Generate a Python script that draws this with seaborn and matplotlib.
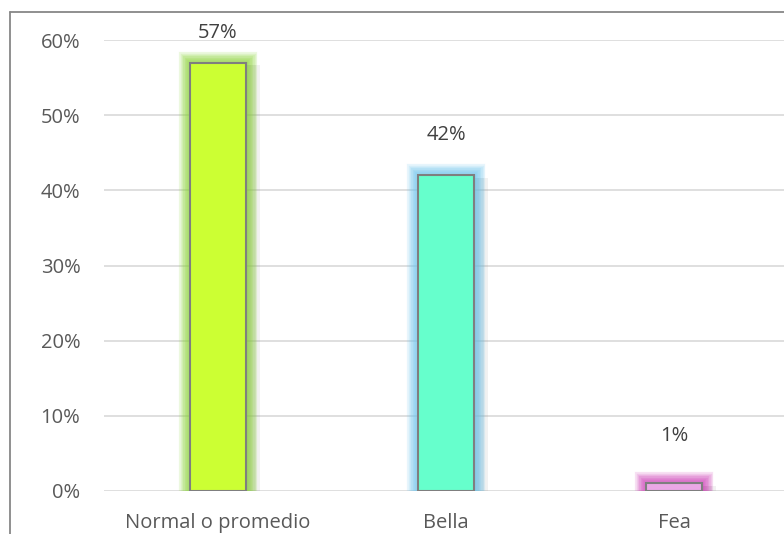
import matplotlib
matplotlib.use("Agg")
import matplotlib.pyplot as plt
import matplotlib.patheffects as pe
from matplotlib.lines import Line2D
import seaborn as sns
import pandas as pd

categories = ["Normal o promedio", "Bella", "Fea"]
values = [0.57, 0.42, 0.01]
fills = ["#CCFF33", "#66FFCC", "#EBA8E6"]
glows = ["#8CD43A", "#6EC6EE", "#D040B8"]
label_offsets_px = [30, 40, 47]
yticks = [0.0, 0.1, 0.2, 0.3, 0.4, 0.5, 0.6]

sns.set_theme(style="white")
plt.rcParams["font.family"] = ["Open Sans", "DejaVu Sans"]

W, H = 784, 534
fig = plt.figure(figsize=(W / 100, H / 100), dpi=100)
ax = fig.add_axes([104 / W, (H - 491) / H, (788 - 104) / W, (491 - 40) / H])

df = pd.DataFrame({"cat": categories, "val": values})
sns.barplot(data=df, x="cat", y="val", hue="cat", palette=fills, saturation=1,
            width=0.245, legend=False, ax=ax, zorder=3)

for patch, glow in zip(ax.patches, glows):
    patch.set_edgecolor("#7F7F7F")
    patch.set_linewidth(1.5)
    effects = []
    for dx in (4, 7, 10):
        effects.append(pe.SimplePatchShadow(offset=(dx, -2), shadow_rgbFace="#909090", alpha=0.12))
    for lw in range(16, 1, -2):
        effects.append(pe.Stroke(linewidth=lw, foreground=glow, alpha=0.16))
    effects.append(pe.Normal())
    patch.set_path_effects(effects)

ax.set_ylim(0, 0.6)
ax.set_xlim(-0.5, 2.5)
ax.set_yticks(yticks)
ax.set_yticklabels([f"{int(round(t * 100))}%" for t in yticks])
ax.yaxis.grid(True, color="#D9D9D9", linewidth=1.2, zorder=0)
ax.set_axisbelow(True)
for s in ax.spines.values():
    s.set_visible(False)
ax.tick_params(axis="both", length=0, colors="#595959", labelsize=14.5)
ax.tick_params(axis="y", pad=17)
ax.tick_params(axis="x", pad=16)
ax.set_xlabel("")
ax.set_ylabel("")

for i, (v, off) in enumerate(zip(values, label_offsets_px)):
    ax.annotate(f"{int(round(v * 100))}%", xy=(i, v), xytext=(0, off * 0.72),
                textcoords="offset points", ha="center", va="center",
                color="#404040", fontsize=14.5, annotation_clip=False)

# outer chart frame
fig.add_artist(Line2D([10 / W, 10 / W], [0, 1 - 12 / H], transform=fig.transFigure,
                      color="#878787", linewidth=1.3))
fig.add_artist(Line2D([10 / W, 1], [1 - 12 / H, 1 - 12 / H], transform=fig.transFigure,
                      color="#878787", linewidth=1.3))

fig.savefig("out.png", dpi=100)
